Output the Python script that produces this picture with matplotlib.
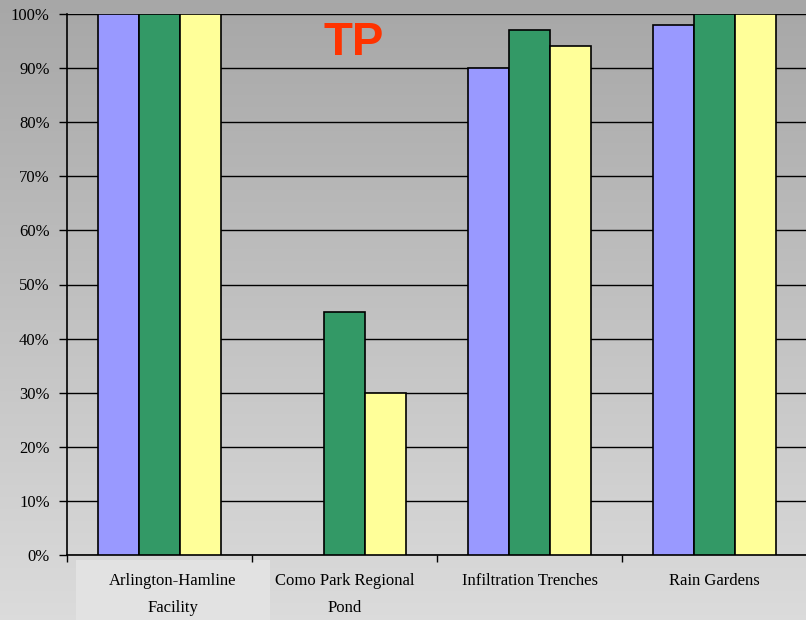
import numpy as np
import matplotlib
matplotlib.use("Agg")
import matplotlib.pyplot as plt
from matplotlib.ticker import FixedLocator, FuncFormatter
from matplotlib.patches import Rectangle
import matplotlib.transforms as mtransforms

categories = ["Arlington-Hamline\nFacility", "Como Park Regional\nPond",
              "Infiltration Trenches", "Rain Gardens"]
series_blue = [100, np.nan, 90, 98]
series_green = [100, 45, 97, 100]
series_yellow = [100, 30, 94, 100]
y_ticks = list(range(0, 101, 10))
title = "TP"

W, H = 806, 620
fig = plt.figure(figsize=(W / 100, H / 100), dpi=100)

# vertical gray gradient behind everything
bg = fig.add_axes([0, 0, 1, 1], zorder=-10)
grad = np.linspace(0, 1, 256).reshape(-1, 1)
top_c, bot_c = np.array([0.655, 0.655, 0.655]), np.array([0.86, 0.86, 0.86])
img = top_c + (bot_c - top_c) * grad[:, :, None]
bg.imshow(img, aspect="auto", extent=[0, 1, 0, 1], origin="upper")
bg.set_axis_off()

# light box behind the first category label
fig.patches.append(Rectangle((76 / W, 0), (270 - 76) / W, (620 - 560) / H,
                             transform=fig.transFigure, facecolor="#e2e2e2",
                             edgecolor="none", zorder=-5))

left, right, top, bottom = 67 / W, 807 / W, 1 - 14 / H, 1 - 555 / H
ax = fig.add_axes([left, bottom, right - left, top - bottom])
ax.set_facecolor("none")

x = np.arange(len(categories))
bw = 0.222
kw = dict(width=bw, edgecolor="black", linewidth=1.2, zorder=3)
ax.bar(x - bw, series_blue, color="#9999FF", **kw)
ax.bar(x, series_green, color="#339966", **kw)
ax.bar(x + bw, series_yellow, color="#FFFF99", **kw)

ax.set_xlim(-0.5, len(categories) - 0.5)
ax.set_ylim(0, 100)
ax.set_yticks(y_ticks)
ax.yaxis.set_major_formatter(FuncFormatter(lambda v, p: f"{int(v)}%"))
ax.yaxis.grid(True, color="black", linewidth=1.0, zorder=1)
ax.set_axisbelow(True)

ax.set_xticks(x)
ax.set_xticklabels(categories, fontfamily="Liberation Serif", fontsize=12,
                   linespacing=1.95)
ax.xaxis.set_minor_locator(FixedLocator(np.arange(-0.5, len(categories), 1.0)))
ax.tick_params(axis="x", which="major", length=0, pad=13)
ax.tick_params(axis="x", which="minor", length=5, width=1, color="black")
ax.tick_params(axis="y", length=6, width=1, color="black", pad=6.5,
               labelsize=12)
for lab in ax.get_yticklabels():
    lab.set_fontfamily("Liberation Serif")

# first label sits slightly right of its group
first = ax.get_xticklabels()[0]
first.set_transform(first.get_transform() +
                    mtransforms.ScaledTranslation(13 / 100, 0, fig.dpi_scale_trans))

for s in ["top", "right"]:
    ax.spines[s].set_visible(False)
for s in ["left", "bottom"]:
    ax.spines[s].set_color("black")
    ax.spines[s].set_linewidth(1.2)

fig.text(354 / W, 1 - 43 / H, title, color="#FF3300", fontsize=34,
         fontweight="bold", fontfamily="Liberation Sans", ha="center", va="center")

fig.savefig("out.png", dpi=100)
